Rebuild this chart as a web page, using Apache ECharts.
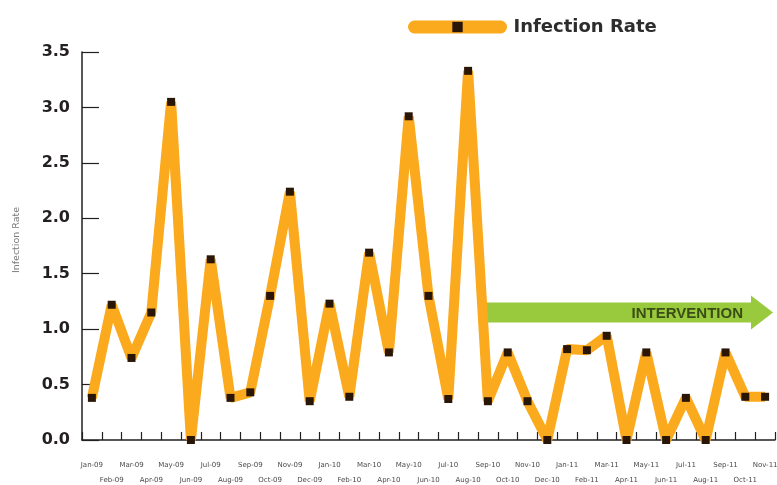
<!DOCTYPE html>
<html>
<head>
<meta charset="utf-8">
<script src="https://cdn.jsdelivr.net/npm/echarts@6/dist/echarts.min.js"></script>
<style>
  html, body { margin: 0; padding: 0; background: #ffffff; }
  #chart { width: 777px; height: 485px; }
</style>
</head>
<body>
<div id="chart"></div>
<script>
// Monthly categories, Jan 2009 – Nov 2011
const months = [
  'Jan-09', 'Feb-09', 'Mar-09', 'Apr-09', 'May-09', 'Jun-09', 'Jul-09', 'Aug-09', 'Sep-09', 'Oct-09', 'Nov-09', 'Dec-09',
  'Jan-10', 'Feb-10', 'Mar-10', 'Apr-10', 'May-10', 'Jun-10', 'Jul-10', 'Aug-10', 'Sep-10', 'Oct-10', 'Nov-10', 'Dec-10',
  'Jan-11', 'Feb-11', 'Mar-11', 'Apr-11', 'May-11', 'Jun-11', 'Jul-11', 'Aug-11', 'Sep-11', 'Oct-11', 'Nov-11'
];

// Monthly infection rate
const infectionRate = [
  0.38, 1.22, 0.74, 1.15, 3.05, 0.00, 1.63, 0.38, 0.43, 1.30, 2.24, 0.35,
  1.23, 0.39, 1.69, 0.79, 2.92, 1.30, 0.37, 3.33, 0.35, 0.79, 0.35, 0.00,
  0.82, 0.81, 0.94, 0.00, 0.79, 0.00, 0.38, 0.00, 0.79, 0.39, 0.39
];

// Intervention banner: starts at this month, drawn at this rate level
const interventionStart = 'Sep-10';
const interventionLevel = 1.15;
const interventionLabel = 'INTERVENTION';

const seriesName = 'Infection Rate';
const axisName = 'Infection Rate';

const ORANGE = '#FBAA1E';
const MARKER = '#2a1606';
const INK = '#231f20';
const GREEN = '#99c93c';

const chart = echarts.init(document.getElementById('chart'), null, { renderer: 'canvas' });

chart.setOption({
  animation: false,
  backgroundColor: '#ffffff',
  grid: {
    left: 82, right: 2, top: 52, bottom: 45,
    containLabel: false,
    outerBoundsMode: 'none'
  },
  legend: {
    data: [seriesName],
    left: 403,
    top: 13,
    padding: 5,
    itemWidth: 86,
    itemHeight: 13,
    lineStyle: { width: 13, cap: 'round', color: ORANGE },
    itemStyle: { color: MARKER },
    textStyle: {
      fontFamily: 'DejaVu Sans',
      fontWeight: 'bold',
      fontSize: 18,
      color: '#2d2d2d',
      padding: [0, 0, 0, 8]
    }
  },
  xAxis: {
    type: 'category',
    data: months,
    boundaryGap: true,
    axisLine: { lineStyle: { color: INK, width: 1.5 } },
    axisTick: { show: true, inside: true, length: 8, interval: 0, lineStyle: { color: INK, width: 1.2 } },
    axisLabel: {
      interval: 0,
      margin: 18,
      fontFamily: 'DejaVu Sans',
      fontSize: 7,
      lineHeight: 15,
      color: '#4a4a4a',
      formatter: (v, i) => (i % 2 ? '\n' + v : v)
    },
    splitLine: { show: false }
  },
  yAxis: {
    type: 'value',
    min: 0,
    max: 3.5,
    interval: 0.5,
    name: axisName,
    nameLocation: 'middle',
    nameRotate: 90,
    nameGap: 60,
    nameTextStyle: { fontFamily: 'DejaVu Sans', fontSize: 9.5, color: '#7a7a7a', padding: [0, 0, 0, 12] },
    axisLine: { show: true, lineStyle: { color: INK, width: 1.5 } },
    axisTick: { show: true, inside: true, length: 17, lineStyle: { color: INK, width: 1.2 } },
    axisLabel: {
      margin: 12,
      fontFamily: 'DejaVu Sans',
      fontWeight: 'bold',
      fontSize: 16,
      color: INK,
      formatter: v => v.toFixed(1)
    },
    splitLine: { show: false }
  },
  series: [
    {
      name: 'intervention',
      type: 'custom',
      z: 1,
      silent: true,
      data: [[interventionStart, interventionLevel]],
      renderItem: (params, api) => {
        const start = api.coord([api.value(0), api.value(1)]);
        const cs = params.coordSys;
        const tipX = cs.x + cs.width - 2;
        const half = 10;      // half thickness of the shaft
        const headHalf = 17;  // half height of the arrow head
        const headLen = 22;
        const x0 = start[0] - 1;
        const y = start[1];
        const neck = tipX - headLen;
        return {
          type: 'group',
          children: [
            {
              type: 'polygon',
              shape: {
                points: [
                  [x0, y - half], [neck, y - half], [neck, y - headHalf],
                  [tipX, y], [neck, y + headHalf], [neck, y + half], [x0, y + half]
                ]
              },
              style: { fill: GREEN }
            },
            {
              type: 'text',
              style: {
                x: neck - 8,
                y: y + 1,
                text: interventionLabel,
                align: 'right',
                verticalAlign: 'middle',
                fill: '#3b4d16',
                font: 'bold 15px "Liberation Sans Narrow", "Liberation Sans"'
              }
            }
          ]
        };
      }
    },
    {
      name: seriesName,
      type: 'line',
      z: 3,
      data: infectionRate,
      symbol: 'rect',
      symbolSize: 8,
      showSymbol: true,
      itemStyle: { color: MARKER },
      lineStyle: { color: ORANGE, width: 10, join: 'bevel' },
      clip: false
    }
  ]
});
</script>
</body>
</html>
